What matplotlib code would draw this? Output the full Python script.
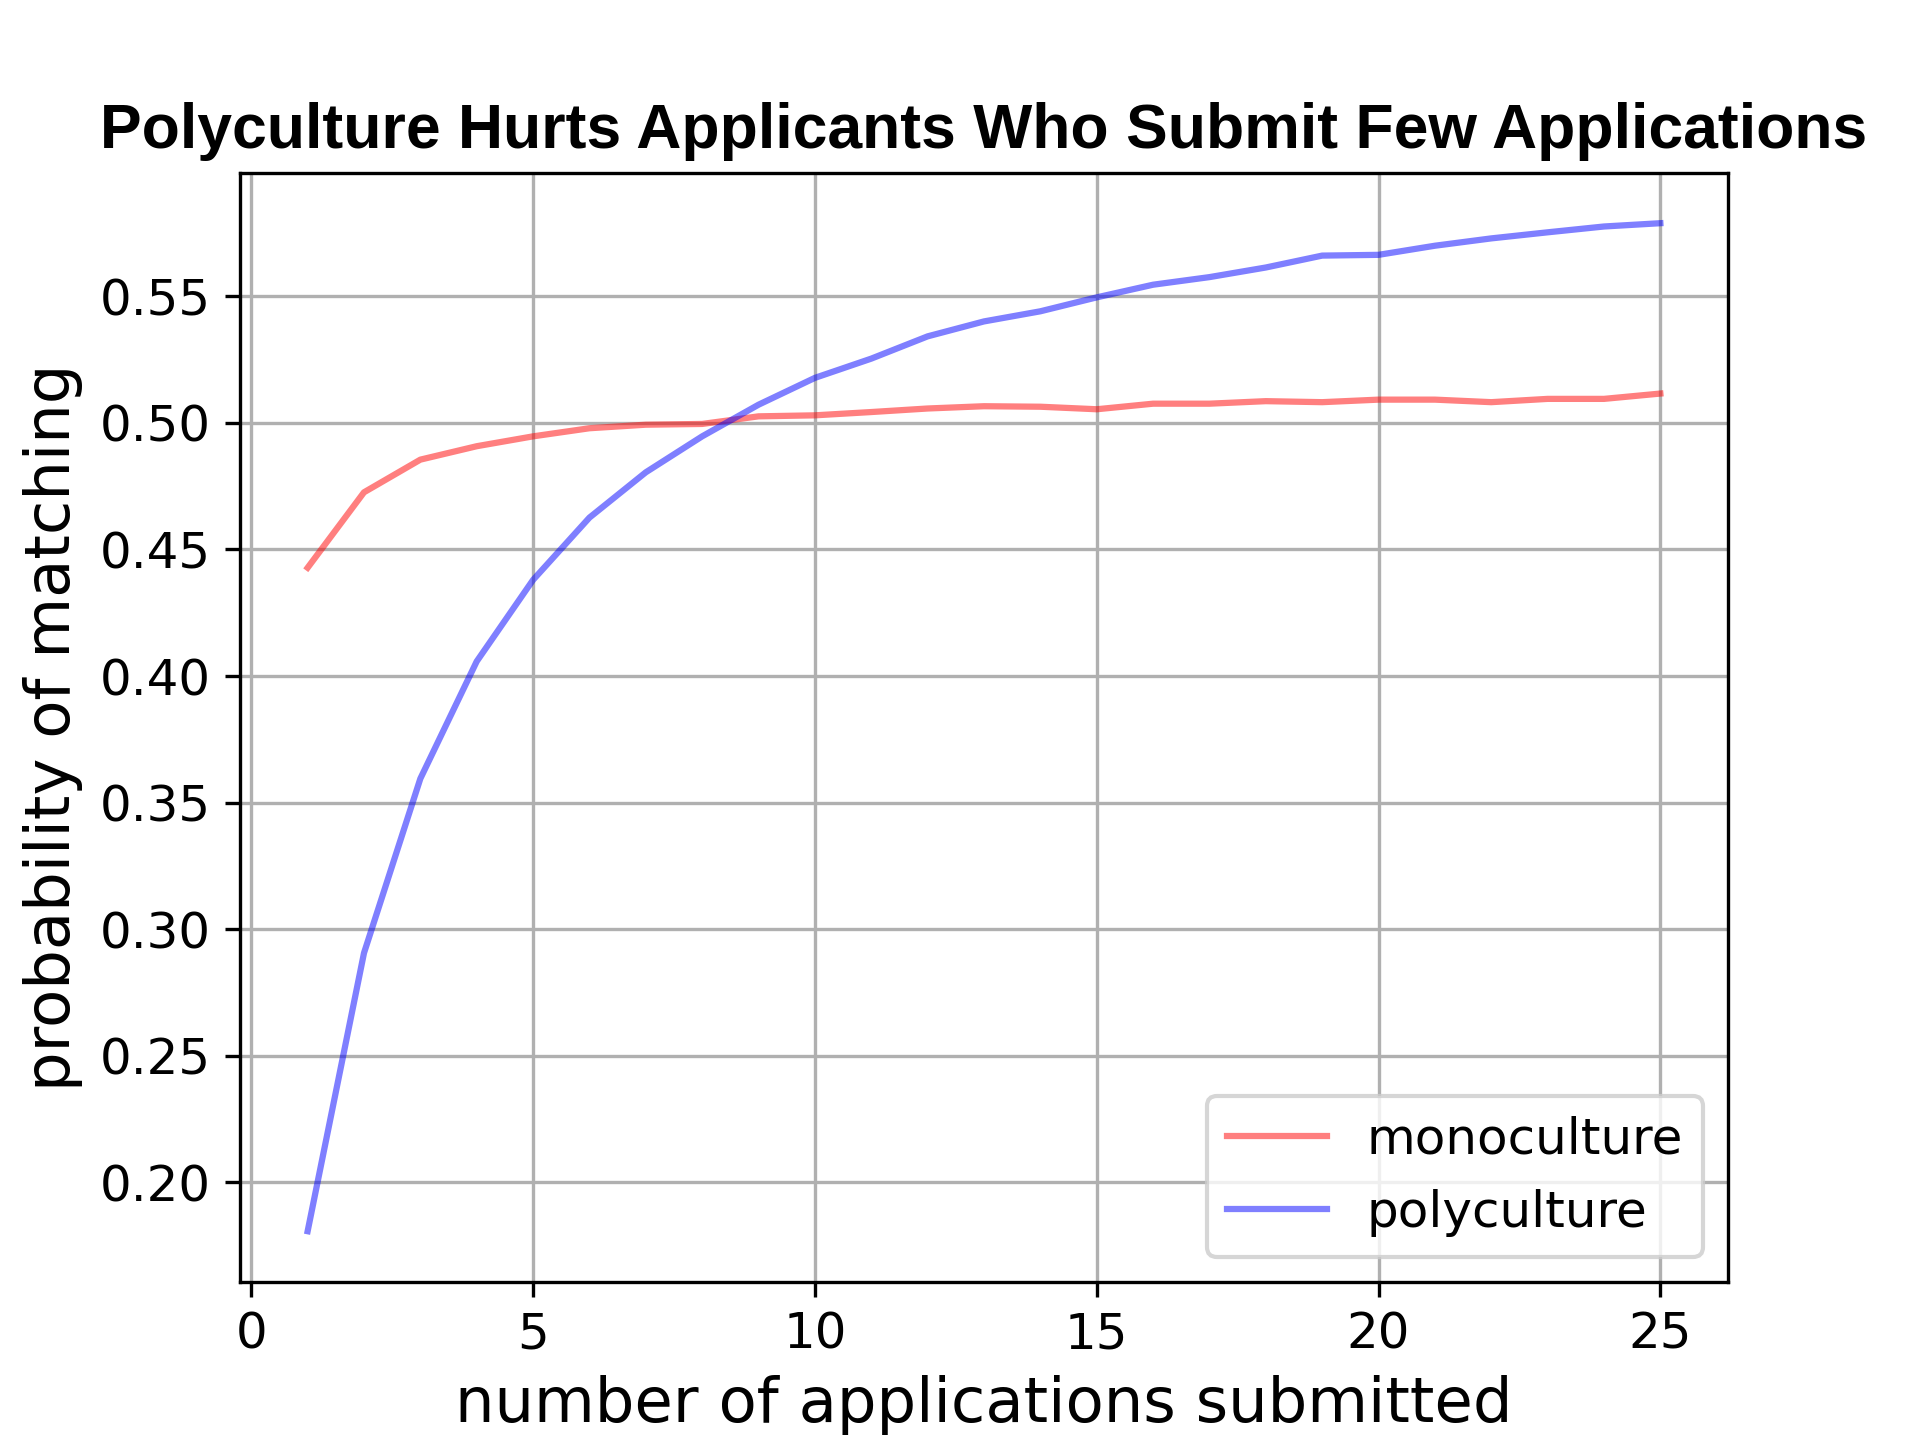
import numpy as np
import matplotlib
matplotlib.use('Agg')
import matplotlib.pyplot as plt

# number of applications submitted
n_apps = np.arange(1, 26)

# probability of matching
mono = [0.4428, 0.4726, 0.4855, 0.4908, 0.4947, 0.4979, 0.4993, 0.4996, 0.5026, 0.5030,
        0.5043, 0.5057, 0.5066, 0.5064, 0.5054, 0.5076, 0.5076, 0.5086, 0.5082, 0.5092,
        0.5092, 0.5082, 0.5095, 0.5095, 0.5116]
poly = [0.1807, 0.2906, 0.3595, 0.4058, 0.4380, 0.4626, 0.4805, 0.4947, 0.5072, 0.5178,
        0.5254, 0.5342, 0.5401, 0.5441, 0.5496, 0.5546, 0.5576, 0.5614, 0.5661, 0.5664,
        0.5700, 0.5729, 0.5753, 0.5776, 0.5789]

fig = plt.figure(figsize=(6.4, 4.8), dpi=300)
ax = fig.add_subplot(1, 1, 1)

ax.plot(n_apps, mono, color='red', alpha=0.5, label='monoculture')
ax.plot(n_apps, poly, color='blue', alpha=0.5, label='polyculture')

ax.set_xlabel('number of applications submitted', fontsize=15)
ax.set_ylabel('probability of matching', fontsize=15)
ax.set_title('Polyculture Hurts Applicants Who Submit Few Applications',
             fontsize=15, fontweight='bold', family=['Liberation Sans', 'DejaVu Sans'])
ax.tick_params(labelsize=12)
ax.grid(True)
ax.legend(loc='lower right', fontsize=12)

fig.savefig('out.png', dpi=300)
